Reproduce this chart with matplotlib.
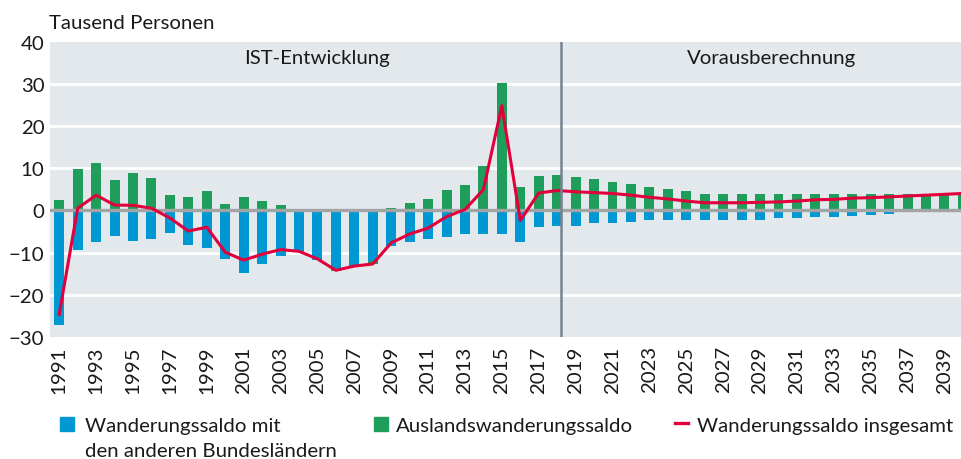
import matplotlib
matplotlib.use("Agg")
import matplotlib.pyplot as plt
import numpy as np
from matplotlib.patches import Rectangle
from matplotlib.lines import Line2D

plt.rcParams['font.family'] = ['Lato', 'DejaVu Sans']

years = np.arange(1991, 2041)

# Wanderungssaldo mit den anderen Bundeslaendern (Tausend)
binnen = [-27.2, -9.5, -7.6, -6.0, -7.3, -6.9, -5.3, -8.1, -8.8, -11.6,
          -14.9, -12.6, -10.9, -9.8, -11.8, -13.8, -13.1, -12.0, -8.4, -7.6,
          -6.9, -6.4, -5.7, -5.7, -5.7, -7.6, -4.0, -3.8, -3.6, -3.1,
          -2.9, -2.7, -2.4, -2.4, -2.2, -2.2, -2.2, -2.2, -2.2, -1.9,
          -1.7, -1.5, -1.5, -1.25, -1.0, -0.8, -0.5, -0.3, -0.1, 0.0]

# Auslandswanderungssaldo
ausland = [2.4, 9.9, 11.1, 7.1, 8.8, 7.6, 3.6, 3.1, 4.5, 1.5,
           3.1, 2.2, 1.25, 0.2, 0.3, -0.6, -0.1, -0.8, 0.5, 1.7,
           2.7, 4.8, 6.0, 10.5, 30.2, 5.5, 8.1, 8.3, 7.8, 7.4,
           6.7, 6.2, 5.5, 5.0, 4.6, 3.9, 3.9, 3.9, 3.9, 3.9,
           3.9, 3.9, 3.9, 3.9, 3.9, 3.9, 3.9, 3.9, 3.9, 3.9]

# Wanderungssaldo insgesamt
gesamt = [-24.6, 0.5, 3.6, 1.25, 1.2, 0.5, -1.8, -4.9, -4.0, -9.9,
          -11.8, -10.4, -9.3, -9.7, -11.5, -14.2, -13.2, -12.7, -7.7, -5.6,
          -4.2, -1.5, 0.2, 4.9, 24.8, -2.4, 4.1, 4.7, 4.4, 4.2,
          4.0, 3.6, 3.1, 2.7, 2.2, 1.8, 1.8, 1.8, 1.9, 2.0,
          2.2, 2.5, 2.6, 2.9, 3.0, 3.2, 3.4, 3.6, 3.8, 4.0]

binnen = np.array(binnen)
ausland = np.array(ausland)

c_blue = '#0098d2'
c_green = '#1e9e5a'
c_red = '#e2003c'
c_bg = '#e3e8ec'
c_txt = '#1a1a1a'
fs = 14.7

fig = plt.figure(figsize=(9.62, 4.60), dpi=100)
ax = fig.add_axes([50/962, 1-338/460, 912/962, 295.5/460])
ax.set_facecolor(c_bg)

for y in [30, 20, 10, -10, -20]:
    ax.axhline(y, color='white', lw=2, zorder=1)

w = 0.54
ax.bar(years, binnen, width=w, color=c_blue, zorder=2)
aus_bottom = np.where(ausland >= 0, 0, np.minimum(binnen, 0))
ax.bar(years, ausland, width=w, bottom=aus_bottom, color=c_green, zorder=2)
ax.axhline(0, color='#a2a4a6', lw=2.4, zorder=3)
ax.plot(years, gesamt, color=c_red, lw=2.2, zorder=4)

ax.axvline(2018.22, color='#76838f', lw=1.8, zorder=5)
ax.text(2005.0, 36.1, 'IST-Entwicklung', ha='center', va='center', fontsize=fs, color=c_txt)
ax.text(2029.65, 36.1, 'Vorausberechnung', ha='center', va='center', fontsize=fs, color=c_txt)

ax.set_xlim(1990.5, 2039.95)
ax.set_ylim(-30, 40)
ax.set_yticks(range(-30, 41, 10))
ax.set_yticklabels([str(v).replace('-', '\u2212') for v in range(-30, 41, 10)], fontsize=fs)
ax.set_xticks(years[::2])
ax.set_xticklabels([str(y) for y in years[::2]], rotation=90, fontsize=fs)
ax.tick_params(axis='y', length=0, pad=4, colors=c_txt)
ax.tick_params(axis='x', length=0, pad=6, colors=c_txt)
for s in ax.spines.values():
    s.set_visible(False)

fig.text(49/962, 1-29/460, 'Tausend Personen', fontsize=fs, color=c_txt, va='baseline')

# legend
def px(x, y):
    return x/962, 1-y/460

fig.add_artist(Rectangle(px(60, 432), 14/962, 14/460, color=c_blue, transform=fig.transFigure))
fig.text(*px(85, 432), 'Wanderungssaldo mit', fontsize=fs, va='baseline', color=c_txt)
fig.text(*px(85, 457), 'den anderen Bundesländern', fontsize=fs, va='baseline', color=c_txt)
fig.add_artist(Rectangle(px(374, 432), 14/962, 14/460, color=c_green, transform=fig.transFigure))
fig.text(*px(396, 432), 'Auslandswanderungssaldo', fontsize=fs, va='baseline', color=c_txt)
fig.add_artist(Line2D([675/962, 688/962], [1-424/460, 1-424/460], color=c_red, lw=2.4, transform=fig.transFigure))
fig.text(*px(697, 432), 'Wanderungssaldo insgesamt', fontsize=fs, va='baseline', color=c_txt)

fig.savefig('out.png', dpi=100)
